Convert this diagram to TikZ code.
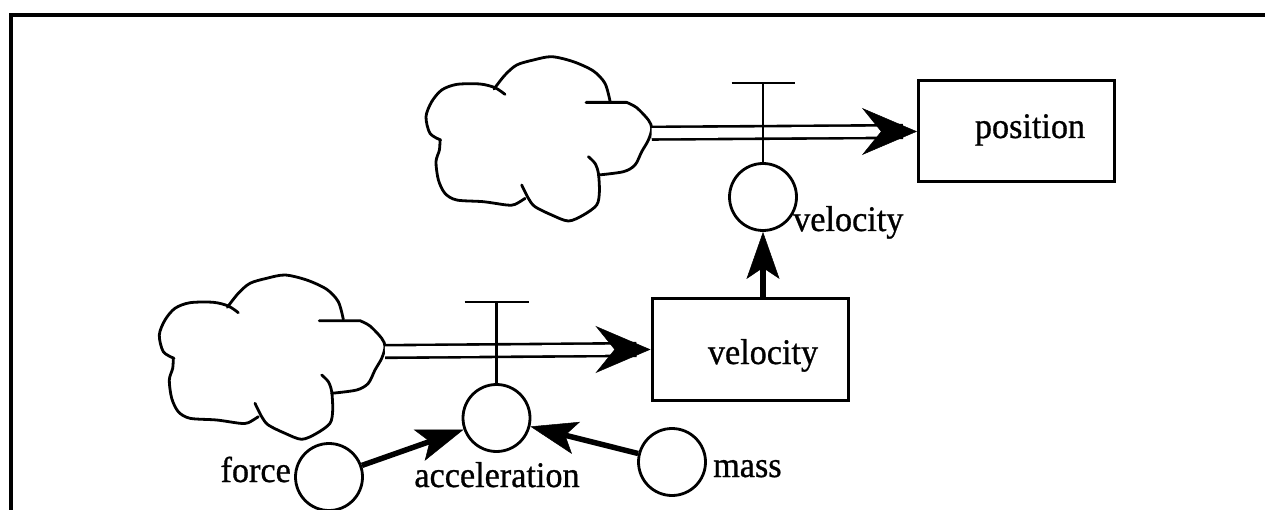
\documentclass[tikz,border=0pt]{standalone}
\usepackage{fontspec}
\setmainfont{Liberation Serif}[FakeStretch=0.95,FakeBold=0.8]
\usetikzlibrary{arrows.meta,calc}
\begin{document}
\begin{tikzpicture}[x=1pt,y=-1pt,
  stock/.style={draw, line width=3pt, minimum width=196pt, minimum height=101pt, inner sep=0pt},
  conv/.style={draw, circle, line width=2.8pt, minimum size=67pt, inner sep=0pt},
  lab/.style={inner sep=0pt, font=\fontsize{36}{40}\selectfont},
  pipe/.style={double, line width=2.6pt, double distance=10pt},
  pipehead/.style={line width=0.1pt, -{Stealth[length=55pt,width=47pt,inset=19pt,line width=0.5pt]}},
  valve/.style={line width=2.7pt},
  frame/.style={line width=3.8pt, line join=miter},
  flow/.style={line width=5.5pt, -{Stealth[length=47pt,width=33pt,inset=11pt,line width=0.5pt]}},
  cloud/.pic={
    \begin{scope}[shift={(-235,-81.5)}, line width=2.8pt, line cap=round, line join=round]
      \draw plot[smooth] coordinates {(24,88.3) (13.3,81.7) (9.3,65) (15,50) (25,38.3) (40,32.7) (63.3,32.3) (78.3,36) (88.3,42.7)};
      \draw plot[smooth] coordinates {(77.3,37.3) (88.3,23.3) (100,13.3) (116.7,8.3) (135,5) (156.7,10) (176.7,19.3) (188.3,31.7) (193.3,49.3)};
      \draw (169.3,50.7) -- plot[smooth] coordinates {(210,50.7) (220,56) (231.7,68.3) (235,76.7) (231.7,88.3) (225,100) (218.3,113.3) (206.7,120) (181.7,123.3)};
      \draw plot[smooth] coordinates {(171.7,105) (178.3,111.7) (181.7,121.7) (182.7,140) (180,153.3) (166.7,163.3) (151.7,169.3) (135,163.3) (118.3,155) (111.7,146.7) (105,133.3)};
      \draw plot[smooth] coordinates {(108.3,146.7) (98.3,152.7) (90,153.3) (66.7,150) (40,148.3) (28.3,141.7) (21.7,128.3) (19.3,110) (22.7,98.3) (23.3,88.3)};
    \end{scope}
    \coordinate (-tip) at (0,0);
  }
]
\useasboundingbox (0,0) rectangle (1265,510);
\draw[frame] (10.7,510) -- (10.7,15) -- (1265,15);

% clouds
\pic (cA) at (651.7,133.2) {cloud};
\pic (cB) at (385,351.5) {cloud};

% stocks
\node[stock] (position) at (1016.5,131.5) {};
\node[lab, anchor=base] (positionlabel) at (1030,138) {position};
\node[stock] (velocity) at (750,349.5) {};
\node[lab, anchor=base] (velocitylabel) at (763,364) {velocity};

% converters
\node[conv] (rateA) at (763,197) {};
\node[lab, anchor=base west] (rateAlabel) at (793,231) {velocity};
\node[conv] (rateB) at (496.5,418) {};
\node[lab, anchor=base] (rateBlabel) at (497,487) {acceleration};
\node[conv] (force) at (329,477) {};
\node[lab, anchor=base east] (forcelabel) at (291,482) {force};
\node[conv] (mass) at (672,462) {};
\node[lab, anchor=base west] (masslabel) at (713,477) {mass};

% pipes
\draw[pipe] (cA-tip) -- ([xshift=-14pt]position.west);
\draw[pipehead] ([xshift=-30pt]position.west) -- (position.west);
\draw[pipe] (cB-tip) -- ([xshift=-14pt]velocity.west);
\draw[pipehead] ([xshift=-30pt]velocity.west) -- (velocity.west);

% valves
\coordinate (vA) at (763,83);
\draw[valve] (rateA.north) -- (vA);
\draw[valve] ([xshift=-31.5pt]vA) -- ([xshift=31.5pt]vA);
\coordinate (vB) at (496.5,302);
\draw[valve] (rateB.north) -- (vB);
\draw[valve] ([xshift=-32pt]vB) -- ([xshift=32pt]vB);

% information arrows
\draw[flow] (rateA |- velocity.north) -- (rateA.south);
\draw[flow] (force) -- (rateB);
\draw[flow] (mass) -- (rateB);
\end{tikzpicture}
\end{document}
